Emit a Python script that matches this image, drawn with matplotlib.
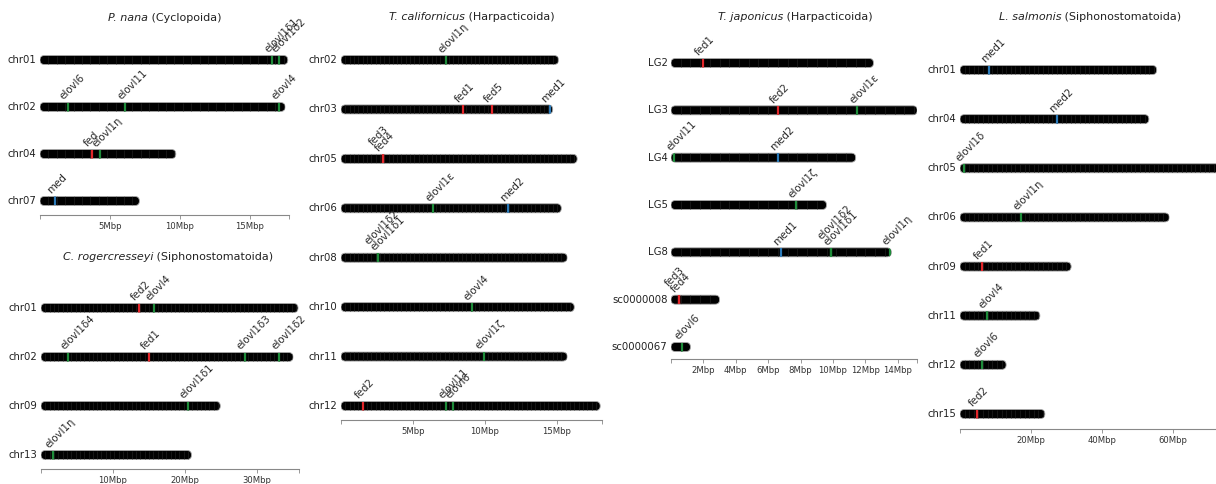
import matplotlib
matplotlib.use('Agg')
import matplotlib.pyplot as plt
from matplotlib.patches import FancyBboxPatch
import numpy as np

W, H = 1216, 484
DPI = 100

# === DADOS (posições em Mbp) ===
pn_chroms = ['chr01', 'chr02', 'chr04', 'chr07']
pn_lengths = [17.7, 17.5, 9.7, 7.1]
pn_genes = [('chr01', 'elovl1δ1', 16.6), ('chr01', 'elovl1δ2', 17.1),
            ('chr02', 'elovl6', 2.0), ('chr02', 'elovl11', 6.1), ('chr02', 'elovl4', 17.1),
            ('chr04', 'fed', 3.7), ('chr04', 'elovl1η', 4.3),
            ('chr07', 'med', 1.1)]

cr_chroms = ['chr01', 'chr02', 'chr09', 'chr13']
cr_lengths = [35.7, 35.0, 24.9, 20.9]
cr_genes = [('chr01', 'fed2', 13.6), ('chr01', 'elovl4', 15.7),
            ('chr02', 'elovl1δ4', 3.8), ('chr02', 'fed1', 15.0),
            ('chr02', 'elovl1δ3', 28.3), ('chr02', 'elovl1δ2', 33.1),
            ('chr09', 'elovl1δ1', 20.4),
            ('chr13', 'elovl1η', 1.7)]

tc_chroms = ['chr02', 'chr03', 'chr05', 'chr06', 'chr08', 'chr10', 'chr11', 'chr12']
tc_lengths = [15.1, 14.7, 16.4, 15.3, 15.7, 16.2, 15.7, 18.0]
tc_genes = [('chr02', 'elovl1η', 7.3),
            ('chr03', 'fed1', 8.5), ('chr03', 'fed5', 10.5), ('chr03', 'med1', 14.5),
            ('chr05', 'fed3', 2.9), ('chr05', 'fed4', 2.9),
            ('chr06', 'elovl1ε', 6.4), ('chr06', 'med2', 11.6),
            ('chr08', 'elovl1δ2', 2.6), ('chr08', 'elovl1δ1', 2.6),
            ('chr10', 'elovl4', 9.1),
            ('chr11', 'elovl1ζ', 9.9),
            ('chr12', 'fed2', 1.5), ('chr12', 'elovl11', 7.3), ('chr12', 'elovl6', 7.8)]

tj_chroms = ['LG2', 'LG3', 'LG4', 'LG5', 'LG8', 'sc0000008', 'sc0000067']
tj_lengths = [12.5, 15.2, 11.4, 9.6, 13.6, 3.0, 1.2]
tj_genes = [('LG2', 'fed1', 1.95),
            ('LG3', 'fed2', 6.6), ('LG3', 'elovl1ε', 11.5),
            ('LG4', 'elovl11', 0.2), ('LG4', 'med2', 6.6),
            ('LG5', 'elovl1ζ', 7.7),
            ('LG8', 'med1', 6.8), ('LG8', 'elovl1δ2', 9.9), ('LG8', 'elovl1δ1', 9.9),
            ('LG8', 'elovl1η', 13.5),
            ('sc0000008', 'fed3', 0.5), ('sc0000008', 'fed4', 0.5),
            ('sc0000067', 'elovl6', 0.7)]

ls_chroms = ['chr01', 'chr04', 'chr05', 'chr06', 'chr09', 'chr11', 'chr12', 'chr15']
ls_lengths = [55.4, 53.2, 80.0, 58.9, 31.3, 22.5, 13.0, 23.9]
ls_genes = [('chr01', 'med1', 8.2), ('chr04', 'med2', 27.3),
            ('chr05', 'elovl1δ', 1.0), ('chr06', 'elovl1η', 17.2),
            ('chr09', 'fed1', 6.2), ('chr11', 'elovl4', 7.6),
            ('chr12', 'elovl6', 6.2), ('chr15', 'fed2', 4.8)]

cores = {'fed': '#e3262a', 'elovl': '#1e8c3a', 'med': '#2b7bba'}


def cor_gene(nome):
    for k, c in cores.items():
        if nome.startswith(k):
            return c
    return 'gray'


fig = plt.figure(figsize=(W / DPI, H / DPI), dpi=DPI)
renderer = fig.canvas.get_renderer()


def titulo(especie, ordem, cx, cy):
    # parte em itálico + parte normal, centradas juntas
    fs = 8
    t1 = fig.text(0, 0, especie, fontsize=fs, style='italic', color='#222222')
    t2 = fig.text(0, 0, ' ' + ordem, fontsize=fs, color='#222222')
    w1 = t1.get_window_extent(renderer).width
    w2 = t2.get_window_extent(renderer).width
    x_ini = cx - (w1 + w2) / 2
    y = 1 - cy / H
    t1.set_position((x_ini / W, y))
    t1.set_va('center')
    t2.set_position(((x_ini + w1) / W, y))
    t2.set_va('center')


def painel(chroms, lengths, genes, x0, ppm, xmax, row_first, row_last,
           axis_y, ticks, step):
    n = len(chroms)
    sp = (row_last - row_first) / (n - 1)
    top_y = row_first - 0.7 * sp
    ax = fig.add_axes([x0 / W, 1 - axis_y / H, xmax * ppm / W, (axis_y - top_y) / H])
    ax.set_xlim(0, xmax)
    ax.set_ylim(n - 1 + (axis_y - row_last) / sp, -0.7)
    half = 4.5 / sp
    rad = 4.4 / ppm

    for i, (c, L) in enumerate(zip(chroms, lengths)):
        box = FancyBboxPatch((0, i - half), L, 2 * half,
                             boxstyle=f'round,pad=0,rounding_size={rad}',
                             mutation_aspect=ppm / sp,
                             facecolor='black', edgecolor='#a8a8a8', lw=0.6, zorder=2)
        ax.add_patch(box)
        xs = np.arange(step, L, step)
        st = ax.vlines(xs, i - half, i + half, colors='#222222', lw=0.45, zorder=3)
        st.set_clip_path(box)

        ax.annotate(c, (0, i), xytext=(-2.5, 0), textcoords='offset points',
                    ha='right', va='center', fontsize=7.3, color='#222222',
                    annotation_clip=False)

        meus = [g for g in genes if g[0] == c]
        grupos = {}
        for _, nome, pos in meus:
            gl = ax.vlines(pos, i - half, i + half, colors=cor_gene(nome), lw=1.6, zorder=4)
            gl.set_clip_path(box)
            grupos.setdefault(pos, []).append(nome)
        for pos, nomes in grupos.items():
            ax.annotate('\n'.join(nomes), (pos, i - half), xytext=(-2.0, 0.5),
                        textcoords='offset points', rotation=45, rotation_mode='anchor',
                        ha='left', va='bottom', fontsize=7.4, color='#2a2a2a',
                        linespacing=0.8, annotation_clip=False)

    for s in ['left', 'top', 'right']:
        ax.spines[s].set_visible(False)
    ax.spines['bottom'].set_color('#888888')
    ax.spines['bottom'].set_linewidth(0.8)
    ax.set_yticks([])
    ax.set_xticks([0] + ticks + [xmax])
    ax.set_xticklabels([''] + [f'{t}Mbp' for t in ticks] + [''])
    ax.tick_params(axis='x', length=3, width=0.6, color='#888888', labelsize=6.1,
                   labelcolor='#333333', pad=2)
    ax.patch.set_visible(False)


painel(pn_chroms, pn_lengths, pn_genes, 40, 14.0, 17.8, 60, 201, 215, [5, 10, 15], 0.6)
titulo('P. nana', '(Cyclopoida)', 165, 18)

painel(cr_chroms, cr_lengths, cr_genes, 41, 7.2, 35.8, 308, 455, 469, [10, 20, 30], 0.6)
titulo('C. rogercresseyi', '(Siphonostomatoida)', 168, 257)

painel(tc_chroms, tc_lengths, tc_genes, 341, 14.4, 18.1, 60, 406, 420, [5, 10, 15], 0.3)
titulo('T. californicus', '(Harpacticoida)', 472, 17)

painel(tj_chroms, tj_lengths, tj_genes, 671, 16.2, 15.2, 63, 347, 359,
       [2, 4, 6, 8, 10, 12, 14], 0.6)
titulo('T. japonicus', '(Harpacticoida)', 795, 17)

painel(ls_chroms, ls_lengths, ls_genes, 960, 3.55, 80, 70, 414, 429, [20, 40, 60], 1.3)
titulo('L. salmonis', '(Siphonostomatoida)', 1090, 17)

fig.savefig('out.png', dpi=DPI)
